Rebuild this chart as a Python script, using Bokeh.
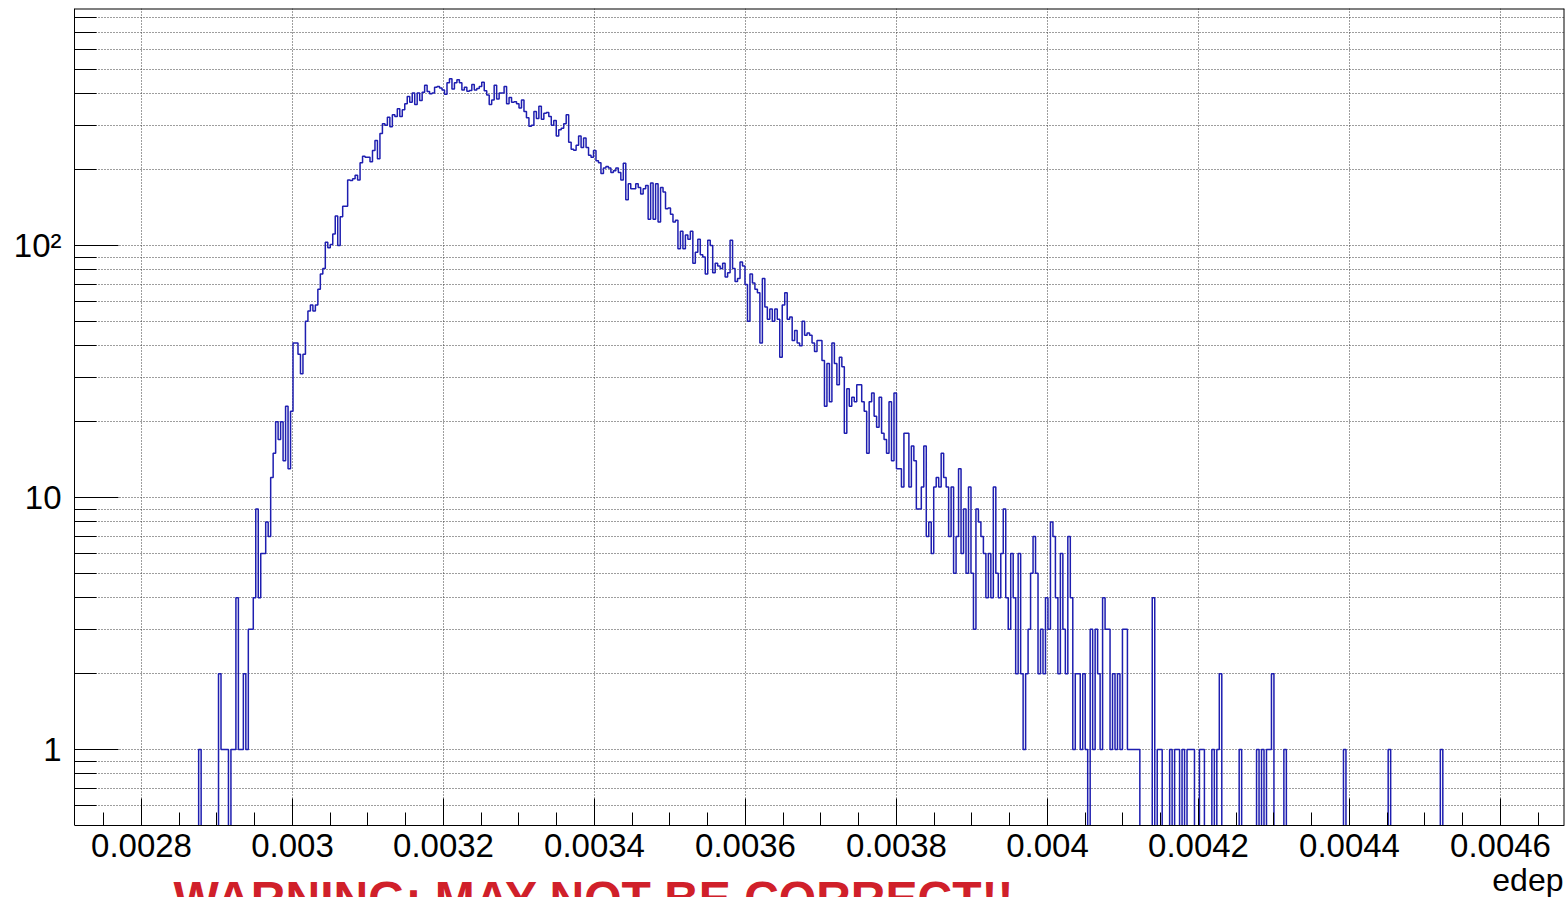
import numpy as np
from bokeh.plotting import figure
from bokeh.models import Range1d, FixedTicker, Label, ColumnDataSource, BoxAnnotation
from bokeh.embed import file_html
from bokeh.resources import INLINE

# Histogram of deposited energy: 600 equal bins over the axis range,
# the counts below start at the first filled bin.
BIN_WIDTH = 3.2892e-6
FIRST_EDGE = 0.0028757

counts = [
    # rising edge
    1, 0, 0, 0, 0, 0, 0, 0, 2, 1, 1, 1, 0, 1, 1, 4, 1, 1, 2, 1,
    3, 3, 4, 9, 4, 6, 6, 8, 7, 12, 15, 20, 17, 20, 14, 23, 13, 22, 41, 41,
    37, 31, 37, 50, 55, 58, 55, 58, 67, 77, 81, 103, 98, 101, 111, 131, 100, 130,
    # towards the peak
    143, 143, 182, 181, 184, 190, 182, 213, 226, 224, 224, 215, 238, 261, 221,
    278, 304, 300, 323, 296, 330, 325, 349, 325, 346, 365, 390, 370, 403, 363,
    403, 376, 406, 432, 408, 400, 403, 425, 428, 422, 414, 398, 442, 459, 418,
    442, 455, 442, 414, 425, 409, 412, 435, 414, 420, 428, 444,
    # falling side
    411, 396, 363, 378, 432, 381, 403, 403, 428, 365, 387, 370, 372, 365, 351,
    378, 340, 321, 297, 300, 340, 319, 357, 317, 335, 337, 325, 300, 313, 272,
    288, 292, 304, 330, 257, 241, 239, 250, 272, 245, 267, 245, 228, 224, 238,
    217, 213, 193, 203, 206, 203, 195, 198, 203, 195, 182, 212, 152, 176, 168,
    168, 176, 170, 160, 168, 173, 127, 177, 127, 176, 124, 170,
    163, 140, 141, 133, 124, 126, 97, 114, 97, 110, 106, 114, 85, 94, 106,
    92, 90, 77, 105, 100, 78, 85, 83, 81, 85, 75, 78, 105, 81, 72,
    74, 86, 83, 70, 50, 77, 71, 67, 65, 41,
    74, 57, 51, 56, 50, 56, 51, 36, 58, 65, 51, 52, 42, 46, 41,
    40, 50, 44, 45, 44, 41, 38, 42, 42, 35, 23, 34, 24, 41, 34,
    28, 36, 33, 18, 27, 23, 25, 24, 28, 28, 24, 22, 15, 24, 26,
    21, 19, 25, 18, 17, 15, 24, 14, 26,
    # tail
    13, 13, 11, 18, 18, 11, 16, 14, 9, 9, 11, 16, 7, 8, 6,
    11, 12, 11, 15, 12, 11, 7, 11, 5, 7, 13, 6, 9, 5, 11,
    5, 3, 9, 8, 7, 6, 4, 6, 4, 11, 5, 4, 6, 9, 4,
    3, 6, 4, 2, 6, 2, 1, 2, 3, 5, 7, 5,
    2, 3, 2, 4, 3, 8, 7, 4, 2, 6, 3, 2,
    7, 4, 1, 2, 2, 1, 2, 1, 0, 3, 1, 3, 2, 1, 4,
    3, 3, 1, 2, 1, 2, 1, 3, 3, 1, 1, 1, 1, 1, 0,
    0, 0, 0, 0, 4,
    0, 1, 1, 0, 0, 0, 1, 0, 1, 1, 0, 1, 0, 1, 1,
    1, 0, 0, 1, 1, 0, 0, 0, 1, 0, 1, 2, 0, 0, 0,
    0, 0, 0, 0, 1, 0, 0, 0, 0, 0, 0, 1, 0, 1, 0,
    1, 1, 2, 0, 0, 0, 0, 1, 0, 0, 0, 0, 0, 0, 0,
    0, 0, 0, 0, 0, 0, 0, 0, 0, 0, 0, 0, 0, 0, 0,
    0, 1, 0, 0, 0, 0, 0, 0, 0, 0, 0, 0, 0, 0, 0,
    0, 0, 0, 0, 1, 0, 0, 0, 0, 0, 0, 0, 0, 0, 0,
    0, 0, 0, 0, 0, 0, 0, 0, 0, 0, 1,
]

x_ticks = [0.0028, 0.0030, 0.0032, 0.0034, 0.0036, 0.0038, 0.0040, 0.0042, 0.0044, 0.0046]
x_tick_labels = ["0.0028", "0.003", "0.0032", "0.0034", "0.0036",
                 "0.0038", "0.004", "0.0042", "0.0044", "0.0046"]
y_ticks = [1, 10, 100]
y_tick_labels = ["1", "10", "10\u00b2"]

X_MIN, X_MAX = 0.00271126, 0.00468477
Y_AXIS_MIN, Y_MAX = 0.5, 871.9     # visible span of the log axis
Y_VIEW_MIN = 0.2587                # frame continues below the axis to hold the titles
EMPTY = 0.35                       # empty bins fall below the axis and are masked

# outline of the histogram as a step path
edges = FIRST_EDGE + BIN_WIDTH * np.arange(len(counts) + 1)
vals = np.array(counts, dtype=float)
vals[vals <= 0] = EMPTY
path_x = np.concatenate([[edges[0]], np.repeat(edges, 2)[1:-1], [edges[-1]]])
path_y = np.concatenate([[EMPTY], np.repeat(vals, 2), [EMPTY]])
src = ColumnDataSource(dict(x=path_x, y=path_y))

p = figure(width=1568, height=897, x_range=Range1d(X_MIN, X_MAX),
           y_range=Range1d(Y_VIEW_MIN, Y_MAX), y_axis_type="log",
           output_backend="svg", toolbar_location=None,
           min_border_left=74, min_border_right=4, min_border_top=8,
           min_border_bottom=0)
p.background_fill_color = "white"
p.border_fill_color = "white"
p.outline_line_color = None

# ticks and grids
x_minor = [round(0.00275 + 0.00005 * i, 6) for i in range(39)]
x_minor = [v for v in x_minor if all(abs(v - t) > 1e-9 for t in x_ticks)]
y_minor = [0.6, 0.7, 0.8, 0.9] + [m * d for d in (1, 10, 100) for m in range(2, 10)]
y_minor = [v for v in y_minor if v < Y_MAX]

xt = FixedTicker(ticks=x_ticks, minor_ticks=x_minor)
yt = FixedTicker(ticks=y_ticks, minor_ticks=y_minor)
p.xaxis.ticker = xt
p.yaxis.ticker = yt
p.xgrid.ticker = xt
p.ygrid.ticker = yt

grid_color = "#3c3c3c"
p.xgrid.grid_line_color = grid_color
p.xgrid.grid_line_dash = "1 2"
p.ygrid.grid_line_color = grid_color
p.ygrid.grid_line_dash = "1 2"
p.ygrid.minor_grid_line_color = grid_color
p.ygrid.minor_grid_line_dash = "1 2"

p.line("x", "y", source=src, line_color="#1e1eb0", line_width=1.5)

# white band under the axis hides the grid and the drops of empty bins
p.add_layout(BoxAnnotation(left=X_MIN, right=X_MAX, bottom=Y_VIEW_MIN, top=Y_AXIS_MIN,
                           fill_color="white", fill_alpha=1.0, line_color=None,
                           level="glyph"))

# frame: left and bottom come from the axes, top and right drawn here
p.segment(x0=[X_MIN, X_MAX], y0=[Y_MAX, Y_AXIS_MIN], x1=[X_MAX, X_MAX], y1=[Y_MAX, Y_MAX],
          line_color="black", line_width=2)

font = "Liberation Sans"
for ax in (p.xaxis[0], p.yaxis[0]):
    ax.axis_line_color = "black"
    ax.major_tick_line_color = "black"
    ax.minor_tick_line_color = "black"
    ax.major_tick_out = 0
    ax.minor_tick_out = 0
    ax.major_label_text_font = font
    ax.major_label_text_font_size = "33px"
    ax.major_label_text_color = "black"

p.xaxis.fixed_location = Y_AXIS_MIN
p.xaxis.major_tick_in = 27
p.xaxis.minor_tick_in = 13
p.xaxis.major_label_standoff = 9
p.xaxis.major_label_overrides = dict(zip(x_ticks, x_tick_labels))

p.yaxis.bounds = (Y_AXIS_MIN, Y_MAX)
p.yaxis.major_tick_in = 44
p.yaxis.minor_tick_in = 22
p.yaxis.major_label_standoff = 13
p.yaxis.major_label_overrides = dict(zip(y_ticks, y_tick_labels))

# axis title, right aligned under the frame
p.add_layout(Label(x=1489, y=36, x_units="screen", y_units="screen", text="edep",
                   text_font=font, text_font_size="32px", text_align="right",
                   text_baseline="top", text_color="black"))

# warning banner at the foot of the canvas
p.add_layout(Label(x=99, y=26, x_units="screen", y_units="screen",
                   text="WARNING: MAY NOT BE CORRECT!!",
                   text_font=font, text_font_size="48px", text_font_style="bold",
                   text_align="left", text_baseline="top", text_color="#d0202a"))

open("out.html", "w").write(file_html(p, INLINE))
